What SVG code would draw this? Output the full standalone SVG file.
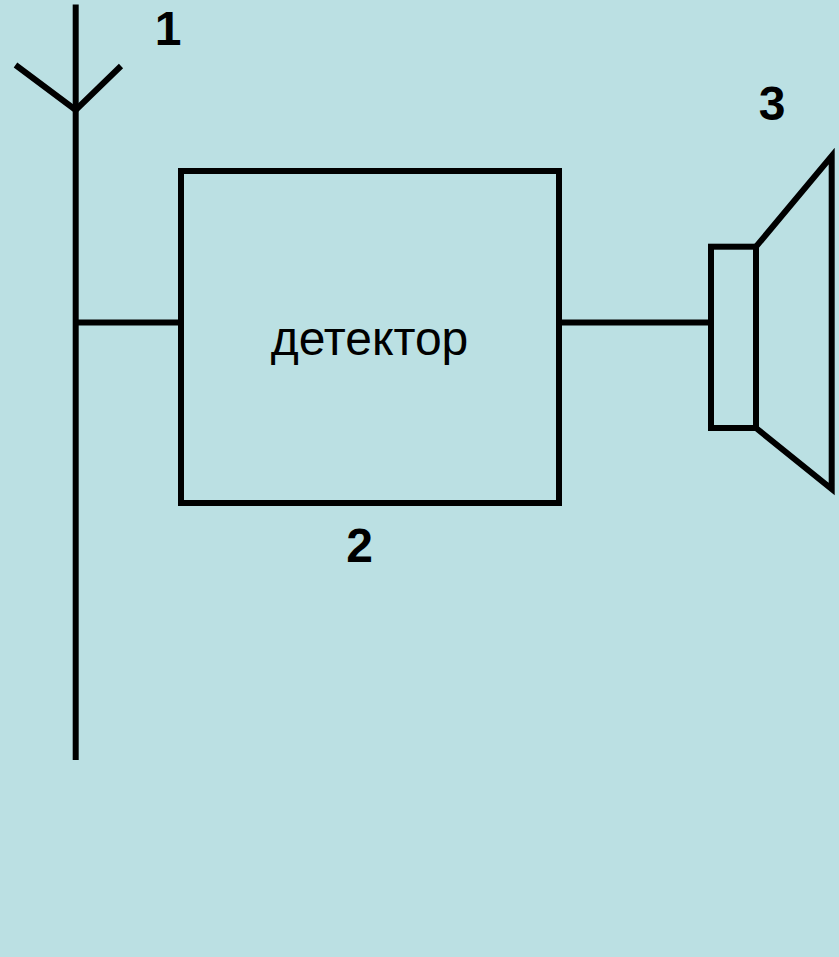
<svg xmlns="http://www.w3.org/2000/svg" width="839" height="957" viewBox="0 0 839 957">
<style>
.l{fill:none;stroke:#000;stroke-width:6;stroke-linejoin:miter}
.n{font-family:"Liberation Sans",Arial,sans-serif;font-size:48px;font-weight:bold;fill:#000;text-anchor:middle}
.t{font-family:"Liberation Sans",Arial,sans-serif;font-size:48px;fill:#000;text-anchor:middle}
</style>
<rect width="839" height="957" fill="#bbe0e3"/>
<g id="connectors">
<path class="l" d="M76 322.500H181"/>
<path class="l" d="M559 322.500H711"/>
</g>
<g id="antenna">
<path class="l" d="M75.700 4.500V760"/>
<path class="l" d="M15.500 65L75.700 110L121 66"/>
<text class="n" x="168" y="45">1</text>
</g>
<g id="detector">
<rect class="l" x="181" y="171" width="378" height="332"/>
<text class="t" x="369.500" y="355">детектор</text>
<text class="n" x="359.500" y="562">2</text>
</g>
<g id="speaker">
<rect class="l" x="711" y="246.700" width="45" height="181.300"/>
<path class="l" d="M756 246.700L831.700 156V489L756 428"/>
<text class="n" x="772" y="120">3</text>
</g>
</svg>
